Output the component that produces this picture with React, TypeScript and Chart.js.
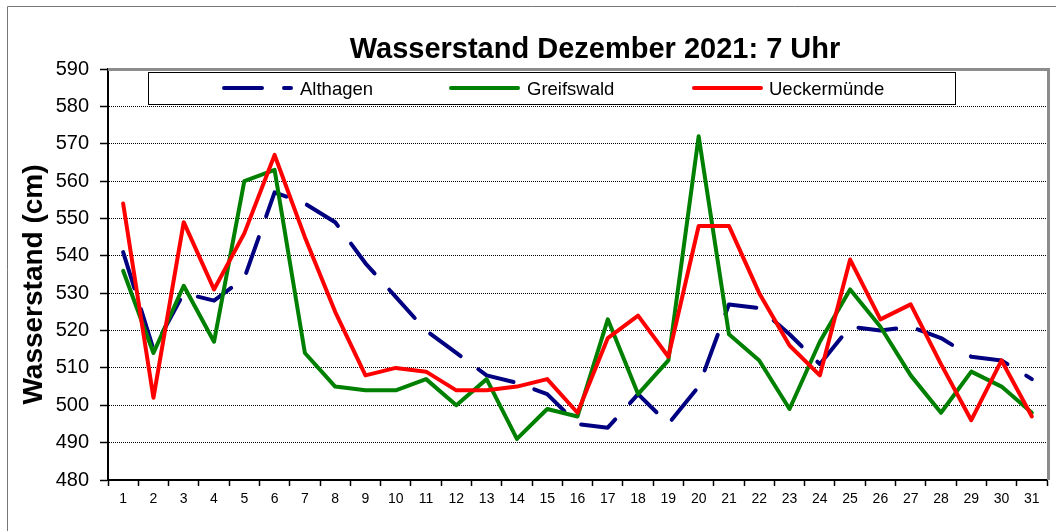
import React, { useEffect, useRef } from 'react';
import { Chart, registerables } from 'chart.js';

Chart.register(...registerables);

const days = ['1','2','3','4','5','6','7','8','9','10','11','12','13','14','15','16','17','18','19','20','21','22','23','24','25','26','27','28','29','30','31'];
const althagen = [541,515,530,528,534,557,554,549,538,529,520,514,508,506,503,495,494,503,495,505,527,526,519,511,521,520,521,518,513,512,507];
const greifswald = [536,514,532,517,560,563,514,505,504,504,507,500,507,491,499,497,523,503,512,572,519,512,499,517,531,521,508,498,509,505,498];
const ueckermuende = [554,502,549,531,546,567,545,525,508,510,509,504,504,505,507,498,518,524,513,548,548,530,516,508,539,523,527,511,496,512,497];

const seriesNames = ['Althagen', 'Greifswald', 'Ueckermünde'];
const seriesColors = ['#000080', '#008000', '#FF0000'];
const titleText = 'Wasserstand Dezember 2021: 7 Uhr';
const yTitleText = 'Wasserstand (cm)';
const yMin = 480;
const yMax = 590;
const yStep = 10;

const FONT = '"Liberation Sans", Arial, sans-serif';
const DASH = [38, 22];

export default function App() {
  const ref = useRef<HTMLCanvasElement>(null);

  useEffect(() => {
    document.body.style.margin = '0';
    const canvas = ref.current;
    if (!canvas) return;

    const deco = {
      id: 'deco',
      beforeDraw(chart: any) {
        const ctx = chart.ctx;
        ctx.save();
        ctx.fillStyle = '#fff';
        ctx.fillRect(0, 0, chart.width, chart.height);
        ctx.strokeStyle = '#777';
        ctx.lineWidth = 1;
        ctx.beginPath();
        ctx.moveTo(7.5, chart.height + 5);
        ctx.lineTo(7.5, 6.5);
        ctx.lineTo(chart.width + 5, 6.5);
        ctx.stroke();
        ctx.restore();
      },
      beforeDatasetsDraw(chart: any) {
        const ctx = chart.ctx;
        const a = chart.chartArea;
        ctx.save();
        ctx.strokeStyle = '#8c8c8c';
        ctx.lineWidth = 3;
        ctx.beginPath();
        ctx.moveTo(a.left, a.top + 0.5);
        ctx.lineTo(a.right + 1.5, a.top + 0.5);
        ctx.lineTo(a.right + 1.5, a.bottom);
        ctx.stroke();
        ctx.restore();
      },
      afterDraw(chart: any) {
        const ctx = chart.ctx;
        ctx.save();
        // Title
        ctx.fillStyle = '#000';
        ctx.font = `bold 29px ${FONT}`;
        ctx.textAlign = 'center';
        ctx.textBaseline = 'alphabetic';
        ctx.fillText(titleText, 595, 58);
        // Y title
        ctx.save();
        ctx.translate(42, 284.5);
        ctx.rotate(-Math.PI / 2);
        ctx.font = `bold 28px ${FONT}`;
        ctx.textAlign = 'center';
        ctx.fillText(yTitleText, 0, 0);
        ctx.restore();
        // Legend
        ctx.fillStyle = '#fff';
        ctx.fillRect(148, 72, 807, 32);
        ctx.strokeStyle = '#000';
        ctx.lineWidth = 1;
        ctx.strokeRect(148.5, 72.5, 807, 32);
        const items = [
          { x1: 224, x2: 291, tx: 300, dash: DASH },
          { x1: 451, x2: 518, tx: 527, dash: [] as number[] },
          { x1: 694, x2: 761, tx: 769, dash: [] as number[] },
        ];
        items.forEach((it, i) => {
          ctx.save();
          ctx.strokeStyle = seriesColors[i];
          ctx.lineWidth = 4;
          ctx.lineCap = 'round';
          ctx.setLineDash(it.dash);
          ctx.beginPath();
          ctx.moveTo(it.x1, 88);
          ctx.lineTo(it.x2, 88);
          ctx.stroke();
          ctx.restore();
          ctx.fillStyle = '#000';
          ctx.font = `18.5px ${FONT}`;
          ctx.textAlign = 'left';
          ctx.textBaseline = 'alphabetic';
          ctx.fillText(seriesNames[i], it.tx, 95);
        });
        ctx.restore();
      },
    };

    const chart = new Chart(canvas, {
      type: 'line',
      data: {
        labels: days,
        datasets: [
          {
            label: seriesNames[0],
            data: althagen,
            borderColor: seriesColors[0],
            borderWidth: 4,
            borderDash: DASH,
            borderCapStyle: 'round',
            borderJoinStyle: 'round',
            order: 3,
          },
          {
            label: seriesNames[1],
            data: greifswald,
            borderColor: seriesColors[1],
            borderWidth: 4,
            borderJoinStyle: 'round',
            borderCapStyle: 'round',
            order: 2,
          },
          {
            label: seriesNames[2],
            data: ueckermuende,
            borderColor: seriesColors[2],
            borderWidth: 4,
            borderJoinStyle: 'round',
            borderCapStyle: 'round',
            order: 1,
          },
        ],
      },
      options: {
        animation: false,
        responsive: false,
        devicePixelRatio: 1,
        layout: { padding: { top: 69, right: 9, left: 0, bottom: 0 } },
        plugins: {
          legend: { display: false },
          title: { display: false },
          tooltip: { enabled: false },
        },
        elements: {
          point: { radius: 0, hoverRadius: 0 },
          line: { tension: 0, fill: false },
        },
        scales: {
          x: {
            type: 'category',
            offset: true,
            grid: {
              offset: true,
              drawOnChartArea: false,
              drawTicks: true,
              tickLength: 6,
              tickColor: '#000',
              tickWidth: 1.5,
            },
            border: { color: '#000', width: 2 },
            ticks: {
              color: '#000',
              font: { family: FONT, size: 14 },
              padding: 5,
              maxRotation: 0,
              autoSkip: false,
            },
            afterFit: (s: any) => { s.height = 51; },
          },
          y: {
            min: yMin,
            max: yMax,
            ticks: {
              stepSize: yStep,
              color: '#000',
              font: { family: FONT, size: 20 },
              padding: 11,
            },
            grid: {
              color: (c: any) => (c.tick && c.tick.value === yMax ? 'rgba(0,0,0,0)' : '#000'),
              lineWidth: 1,
              drawTicks: true,
              tickLength: 8,
              tickColor: '#000',
              tickWidth: 1.5,
              tickBorderDash: [],
            },
            border: { color: '#000', width: 2, dash: [1, 1] },
            afterFit: (s: any) => { s.width = 108; },
          },
        },
      },
      plugins: [deco],
    } as any);

    return () => chart.destroy();
  }, []);

  return (
    <div style={{ width: 1056, height: 531 }}>
      <canvas ref={ref} width={1056} height={531} style={{ display: 'block' }} />
    </div>
  );
}
